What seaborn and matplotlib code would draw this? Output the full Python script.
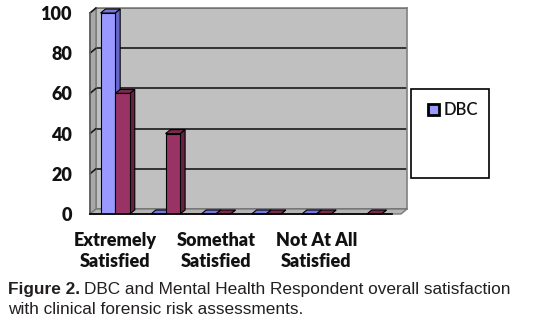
import numpy as np
import pandas as pd
import matplotlib
matplotlib.use("Agg")
import matplotlib.pyplot as plt
import seaborn as sns
from matplotlib.patches import Polygon, Rectangle, Patch
from matplotlib.lines import Line2D
from matplotlib.transforms import IdentityTransform

# data (6 answer categories, labels only shown on every other one)
categories = ["Extremely Satisfied", "Very Satisfied", "Somethat Satisfied",
              "Not Very Satisfied", "Not At All Satisfied", "No Answer"]
tick_labels = ["Extremely\nSatisfied", "", "Somethat\nSatisfied", "",
               "Not At All\nSatisfied", ""]
dbc = [100, 0, 0, 0, 0, None]
mental_health = [60, 40, 0, 0, 0, 0]
y_ticks = [0, 20, 40, 60, 80, 100]

rows = []
for cat, a, b in zip(categories, dbc, mental_health):
    rows.append({"category": cat, "group": "DBC", "value": a})
    rows.append({"category": cat, "group": "Mental Health", "value": b})
df = pd.DataFrame(rows).dropna()

sns.set_theme(style="white")
plt.rcParams["font.family"] = ["Lato", "DejaVu Sans"]

W, H = 533, 327
fig = plt.figure(figsize=(W / 100, H / 100), dpi=100)
fig.patch.set_facecolor("white")


def box(x0, y0, x1, y1):
    # pixel box (y from top) -> figure fraction rect
    return [x0 / W, 1 - y1 / H, (x1 - x0) / W, (y1 - y0) / H]


DX, DY = 6, 5          # depth of the wall
BDX, BDY = 5, 4        # depth of the bars

ax_back = fig.add_axes(box(90 + DX, 13 - DY, 401 + DX, 214 - DY), zorder=0)
ax = fig.add_axes(box(90, 13, 392, 214), zorder=2)

# back wall
ax_back.set_facecolor("#C0C0C0")
ax_back.set_ylim(0, 100)
ax_back.set_yticks(y_ticks)
ax_back.set_xticks([])
ax_back.tick_params(left=False, labelleft=False)
ax_back.grid(axis="y", color="#1a1a1a", lw=1.2)
for s in ax_back.spines.values():
    s.set_color("#808080")
    s.set_linewidth(1.2)

# bars
palette = {"DBC": "#9999FF", "Mental Health": "#993366"}
sns.barplot(data=df, x="category", y="value", hue="group", order=categories,
            hue_order=["DBC", "Mental Health"], palette=palette, width=0.58,
            edgecolor="black", linewidth=0.8, saturation=1, legend=False, ax=ax)
ax.set_facecolor("none")
ax.set_xlim(-0.5, len(categories) - 0.5)
ax.set_ylim(0, 100)
ax.set_yticks(y_ticks)
ax.set_xticks(range(len(categories)))
ax.set_xticklabels(tick_labels, fontsize=13, fontweight="heavy", linespacing=1.3,
                   color="#111111")
ax.set_xticks(np.arange(-0.5, len(categories), 1), minor=True)
ax.tick_params(axis="x", which="major", length=0, pad=13)
ax.tick_params(axis="x", which="minor", length=5, width=1, color="black", direction="out")
ax.tick_params(axis="y", length=6, width=1, color="black", direction="out", pad=7,
               labelsize=13, labelcolor="#111111")
for t in ax.get_yticklabels():
    t.set_fontweight("heavy")
ax.set_xlabel("")
ax.set_ylabel("")
for s in ["top", "right"]:
    ax.spines[s].set_visible(False)
ax.spines["bottom"].set_color("black")
ax.spines["left"].set_color("#606060")

# floor and left wall
fx0, fy0 = ax.transData.transform((-0.5, 0))
fx1, fy1 = ax.transData.transform((-0.5, 100))
rx = fx0 + (401 - 90)
wall = Polygon([(fx0, fy0), (fx1, fy1), (fx1 + DX, fy1 + DY), (fx0 + DX, fy0 + DY)],
               closed=True, transform=IdentityTransform(), facecolor="#A8A8A8",
               edgecolor="#7A7A7A", lw=1, zorder=1)
floor = Polygon([(fx0, fy0), (rx, fy0), (rx + DX, fy0 + DY), (fx0 + DX, fy0 + DY)],
                closed=True, transform=IdentityTransform(), facecolor="#B4B4B4",
                edgecolor="#7A7A7A", lw=1, zorder=1)
fig.add_artist(wall)
fig.add_artist(floor)
for v in y_ticks[1:]:
    px, py = ax.transData.transform((-0.5, v))
    fig.add_artist(Line2D([px, px + DX], [py, py + DY], transform=IdentityTransform(),
                          color="#1a1a1a", lw=1.2, zorder=1.5))

# 3d faces of the bars
shade = {"#9999ff": ("#6666CC", "#7777DD"), "#993366": ("#66223F", "#7A2950")}
for p in ax.patches:
    x0, y0, w, h = p.get_x(), p.get_y(), p.get_width(), p.get_height()
    if not np.isfinite(h):
        continue
    (xl, yb), (xr, yt) = ax.transData.transform([(x0, y0), (x0 + w, y0 + h)])
    key = matplotlib.colors.to_hex(p.get_facecolor())
    side_c, top_c = shade.get(key, ("#666666", "#888888"))
    top = Polygon([(xl, yt), (xr, yt), (xr + BDX, yt + BDY), (xl + BDX, yt + BDY)],
                  closed=True, transform=IdentityTransform(), facecolor=top_c,
                  edgecolor="black", lw=0.8, zorder=0.9, clip_on=False)
    side = Polygon([(xr, yb), (xr, yt), (xr + BDX, yt + BDY), (xr + BDX, yb + BDY)],
                   closed=True, transform=IdentityTransform(), facecolor=side_c,
                   edgecolor="black", lw=0.8, zorder=0.9, clip_on=False)
    ax.add_artist(side)
    ax.add_artist(top)

# legend box (only DBC entry is visible)
fig.add_artist(Rectangle((411 / W, 1 - 178 / H), 78 / W, 89 / H, transform=fig.transFigure,
                         facecolor="white", edgecolor="black", lw=1.2, zorder=3))
handle = Patch(facecolor=palette["DBC"], edgecolor="black", lw=2)
leg = fig.legend([handle], ["DBC"], loc="upper left",
                 bbox_to_anchor=(428 / W, 1 - 102 / H), frameon=False, fontsize=12,
                 handlelength=0.65, handleheight=0.65, handletextpad=0.3,
                 borderpad=0, borderaxespad=0)
leg.set_zorder(4)
for t in leg.get_texts():
    t.set_fontweight("semibold")
    t.set_color("#111111")

# caption
cap_font = ["Liberation Sans", "DejaVu Sans"]
renderer = fig.canvas.get_renderer()
t1 = fig.text(8 / W, 1 - 294 / H, "Figure 2.", family=cap_font, fontweight="bold",
              fontsize=12.4, color="#231F20", va="baseline")
bb = t1.get_window_extent(renderer)
fig.text((bb.x1 + 4) / W, 1 - 294 / H,
         "DBC and Mental Health Respondent overall satisfaction",
         family=cap_font, fontsize=12.4, color="#231F20", va="baseline")
fig.text(8 / W, 1 - 314 / H, "with clinical forensic risk assessments.",
         family=cap_font, fontsize=12.4, color="#231F20", va="baseline")

fig.savefig("out.png", dpi=100)
